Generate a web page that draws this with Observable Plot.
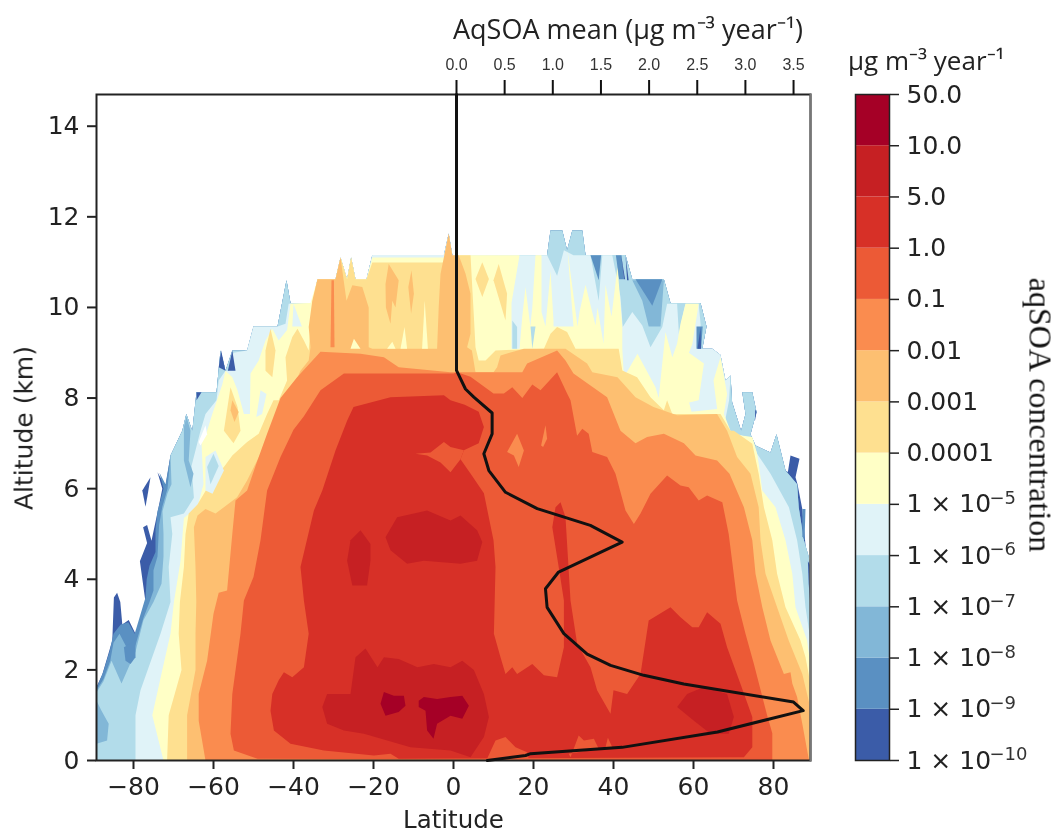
<!DOCTYPE html>
<html><head><meta charset="utf-8">
<script src="https://cdn.jsdelivr.net/npm/d3@7"></script>
<script src="https://cdn.jsdelivr.net/npm/@observablehq/plot@0.6"></script>
<style>
html,body{margin:0;padding:0;background:#fff}
#page{position:relative;width:1058px;height:832px;overflow:hidden}
#page svg{position:absolute;left:0;top:0;background:transparent;filter:blur(0.5px)}
.t{position:absolute;white-space:nowrap;color:#222;line-height:1;filter:blur(0.4px)}
</style></head><body><div id="page"></div>
<script>
const levelLabels = ["1 × 10","1 × 10","1 × 10","1 × 10","1 × 10","1 × 10","0.0001","0.001","0.01","0.1","1.0","5.0","10.0","50.0"];
const exponents = ["−10","−9","−8","−7","−6","−5"];
const palette = ["#3b5ca8","#5a90c2","#82b7d7","#b2dcea","#e0f3f8","#ffffc6","#fee090","#fdbf71","#fa8c4f","#ec5a36","#d73027","#c62023","#a50026"];
const latTicks = [-80,-60,-40,-20,0,20,40,60,80];
const altTicks = [0,2,4,6,8,10,12,14];
const meanTicks = [0,0.5,1,1.5,2,2.5,3,3.5];
const meanAqSOA = [0,0,0.093,0.18,0.37,0.37,0.284,0.336,0.509,0.838,1.39,1.72,1.06,0.924,0.941,1.115,1.357,1.6,1.945,2.36,3.5,3.6,2.71,1.72,0.77,0.717,0.32];
const meanAltitude = [14.7,8.61,8.2,8.02,7.67,7.21,6.77,6.4,5.92,5.56,5.19,4.82,4.16,3.79,3.38,2.8,2.35,2.1,1.88,1.69,1.29,1.1,0.63,0.29,0.15,0.11,0];

// outline of the filled data shared by the outermost bands
const topEnvelope = [[-70.75,6.73],[-67.8,7.28],[-66.8,7.65],[-65.3,7.28],[-64.25,8.13],[-59.25,8.13],[-58.25,9.05],[-57,8.6],[-55.3,9.05],[-51.6,9.05],[-50,9.58],[-44,9.58],[-41.75,10.6],[-40.75,10.1],[-35.3,10.1],[-34,10.62],[-29.5,10.62],[-28.25,11.1],[-26.6,10.62],[-25.6,11.1],[-24.5,10.62],[-21.75,10.62],[-20.3,11.16],[-2.4,11.16],[-1.2,11.63],[-0.3,11.16],[23.4,11.16],[24.25,11.7],[27.2,11.7],[28.4,11.26],[29.7,11.7],[32.2,11.7],[33,11.16],[43,11.16],[44.7,10.62],[52.6,10.62],[54.25,10.1],[61.75,10.1],[63.25,9.58],[62.2,9.09],[64.7,9.09],[66.75,8.95],[68,8.39],[69.25,8.5],[69.65,7.91],[71.9,7.28],[73,7.65],[72.2,8.13],[74.7,8.13],[75.75,7.69],[74.25,7.2],[75.5,6.95],[79.25,6.8]];
const rightShoulder = [[80.75,7.2],[83,6.4],[85.9,6.1],[86.3,5.59],[87.6,4.86],[88.8,4.5],[89.25,4.2],[89.25,0]];

const band0 = [[-89.25,0],[-89.25,1.62],[-87.8,1.9],[-85.3,2.65],[-84.9,3.6],[-84.1,3.7],[-83.3,3.5],[-82.8,3],[-81.2,3.1],[-79.5,2.8],[-77,3.5],[-78.4,4.4],[-76.6,4.8],[-77.6,5.15],[-76.6,5.2],[-75.5,4.85],[-73.7,5.6],[-72.8,6],[-74,6.36],[-72,6.05],...topEnvelope,[80.75,7.2],[83,6.4],[83.6,6.37],[84.25,6.73],[86.5,6.66],[85.5,6.25],[86,6.1],[87.2,5.55],[88.25,4.5],[89.25,4.2],[89.25,0]];
const band0Island = [[-77.8,5.96],[-75.75,6.25],[-76.4,5.9],[-77,5.6]];
const band1 = [[-89.25,0],[-89.25,1.6],[-87.6,1.95],[-86,2.4],[-85,2.8],[-83.2,3],[-81.3,3.05],[-79.7,2.8],[-78,3.3],[-77,3.6],[-76.7,4],[-76,4.3],[-74.5,4.6],[-74.5,5.1],[-74,5.5],[-72.5,6],[-73.5,6.35],[-72,6.1],...topEnvelope,...rightShoulder];
const band2 = [[-89.25,0],[-89.25,1.55],[-87.5,1.8],[-85.8,2.2],[-85,2.6],[-83.5,2.8],[-81.75,2.5],[-80.5,2.4],[-79.5,2.55],[-77.5,3.15],[-76,3.5],[-75,3.75],[-75,4.2],[-74,4.5],[-73.6,5.2],[-72.8,5.6],[-71.5,6],...topEnvelope,...rightShoulder];
const band3 = [[-89.25,0],[-89.25,1.5],[-87.5,1.75],[-85.5,2.2],[-83,1.7],[-81,2.1],[-79.5,2.4],[-77.5,3.1],[-75,3.5],[-73,3.9],[-72.5,4.5],[-72.5,5],[-72.75,5.5],[-71.5,5.9],[-70.5,6.1],...topEnvelope,...rightShoulder];
const band4 = [[-79.5,0],[-79.5,1],[-78.25,1.55],[-73.25,2.8],[-70.75,3.5],[-71.2,4.27],[-70.3,5],[-70.75,5.37],[-67.4,5.45],[-64.9,5.8],[-65.5,6.5],[-63.25,7.28],[-62,7.65],[-59.25,7.95],[-58.7,8.39],[-57,8.6],[-56.2,8.6],[-55,9],[-51.6,9.05],[-50,9.58],[-44,9.58],[-42,9.64],[-41.2,10.08],[-35.3,10.1],[-34,10.62],[-29.5,10.62],[-28.25,11.1],[-26.6,10.62],[-25.6,11.1],[-24.5,10.62],[-21.75,10.62],[-20.3,11.16],[-2.4,11.16],[-1.2,11.63],[-0.3,11.16],[23.4,11.15],[25.9,10.7],[27.6,11.26],[30,11.15],[34.25,11.15],[36.3,10.15],[37.2,11.15],[39.7,11.15],[41.75,10.23],[42.3,9.57],[44.7,9.9],[47.2,9.6],[49.25,9.12],[52.2,9.57],[53.4,10.08],[55.9,10.08],[56.35,9.42],[57.6,9.93],[58,10.08],[61.3,10.08],[61.8,9.6],[61,9.09],[64.7,9.09],[66.75,8.95],[68,8.39],[69.25,8.5],[68.9,7.95],[67.9,7.5],[68.4,7.28],[71,7.2],[74.7,7.1],[75.9,6.77],[79.25,6.33],[83.85,5.59],[85.9,4.86],[87.2,4.12],[88,3.38],[89.25,2.65],[89.25,0]];
const band5 = [[-72.5,0],[-75.3,1],[-72.8,2],[-70.75,2.8],[-69.9,3.5],[-68.25,4.4],[-67.4,5.35],[-64,5.6],[-62.5,6.1],[-63,7],[-61.6,7.28],[-60.3,7.65],[-57.8,8.3],[-57,8.6],[-55.3,8.46],[-54,8.17],[-52.4,7.65],[-50.9,7.65],[-50.75,8.54],[-48.7,8.83],[-47,9.27],[-45.3,9.53],[-43.7,9.27],[-41.6,9.5],[-40.75,10.08],[-35.75,10.1],[-34,10.62],[-29.5,10.62],[-28.25,11.1],[-26.6,10.62],[-25.6,11.1],[-24.5,10.62],[-21.75,10.62],[-20.3,11.1],[-2.4,11.1],[-1.2,11.6],[-0.3,11.1],[0.9,11.15],[16.5,11.15],[14.5,10.1],[14.5,9.09],[16.5,9.09],[17.2,9.8],[18,10.45],[19.2,9.58],[19.7,10],[20.5,11.15],[22,11.15],[22,9.9],[23,9.58],[24.25,10.8],[25,9.7],[25,9.58],[30,9.58],[28.5,11.26],[31,9.58],[31.5,9.9],[33,10.5],[35.5,9.6],[36,10],[37.5,9.2],[38,10.5],[39.5,9.8],[41,10.9],[42.2,9.58],[42.2,9.09],[42.6,8.46],[46,8.98],[50.5,8.24],[51.3,8],[53,9.46],[54.7,8.9],[55.9,9.2],[56.75,9.64],[58,10.08],[61.3,10.08],[59.7,9.19],[58.85,9],[62.6,8.76],[61.3,7.95],[58.9,7.9],[59.5,7.7],[65.9,7.76],[65,8.39],[66.75,8.9],[68.4,8.09],[67.6,7.65],[69.25,7.28],[68.8,7.21],[74.7,7.14],[75.9,6.77],[76.3,6.55],[77.2,5.96],[80.5,5.59],[83,4.86],[84.7,4.12],[85.5,3.38],[88.4,2.65],[89.25,2.1],[89.25,0]];
const band6 = [[-71.6,0],[-71.2,1],[-68,2],[-68.7,2.8],[-68.4,3.5],[-67.4,4.27],[-67,5],[-66.2,5.45],[-64,5.65],[-62,5.95],[-60.25,6.2],[-57.4,6.48],[-55.3,6.73],[-51.6,7.03],[-48.7,7.21],[-46.6,7.65],[-45,7.95],[-43.7,7.95],[-41.6,8.39],[-42,8.9],[-40.3,9.35],[-39,9.53],[-37.4,9.27],[-36.2,9.05],[-35.75,9.57],[-35.3,10.1],[-34,10.62],[-29.5,10.62],[-28.25,11.1],[-26.6,10.62],[-25.6,11.1],[-24.5,10.62],[-21.75,10.62],[-20.3,10.99],[-2.4,10.99],[-1.2,11.6],[-0.3,11.1],[1.3,11.15],[4.25,11.15],[5.1,9.79],[5.5,9.12],[6.3,8.83],[8,8.83],[10.5,9.05],[22.6,9.09],[24.25,9.42],[25.9,9.57],[28.4,9.46],[30.5,9.09],[41.3,9.09],[42.2,8.61],[45.9,8.46],[49.25,8.02],[52.6,7.73],[53.4,7.95],[54.7,7.65],[66.75,7.65],[69.25,7.28],[70.1,7.28],[74.7,6.99],[76.3,6.33],[77.6,5.59],[79.7,4.86],[80.9,4.12],[83,3.38],[86.75,2.65],[88,2.28],[88.8,1.91],[89.25,1.6],[89.25,0]];
const band7 = [[-66.6,0],[-66.6,1],[-64.5,2],[-64.5,2.8],[-64.3,3.5],[-64.5,4.27],[-64.9,5.15],[-64,5.41],[-62,5.55],[-59.5,5.45],[-57.4,5.59],[-54.1,5.81],[-51.6,6.18],[-48.25,6.77],[-45.75,7.28],[-43.25,7.73],[-41.6,7.95],[-38.25,8.6],[-36.2,8.83],[-35.75,9.12],[-36.2,9.57],[-35.3,10.15],[-34,10.62],[-29.5,10.62],[-28.25,11.1],[-26.75,10.15],[-25.3,10.49],[-22.8,10.45],[-21.2,10],[-21.2,9.12],[-20.3,9.09],[-4.1,9.09],[-3.7,10],[-3.25,10.74],[-1.2,11.63],[-0.3,11.15],[1.3,11.15],[3,10.75],[4.25,10.3],[4.25,9.42],[3.4,9.12],[4.6,9.05],[5.5,8.57],[10,8.57],[10.9,8.68],[11.75,8.94],[17.6,9.09],[28,9.09],[33.4,8.76],[34.7,8.57],[41,8.46],[45.5,8.02],[50,7.8],[55.9,7.62],[65.9,7.65],[68.4,7.28],[70.9,6.7],[74.25,6.33],[76.3,5.59],[76.75,4.86],[78,4.12],[80.9,3.38],[83.8,2.65],[87.2,1.91],[88.8,1.32],[89.25,1.1],[89.25,0]];
const band8 = [[-62,0],[-63.7,0.88],[-63.7,1.47],[-61.6,2.2],[-60,3.24],[-58.7,3.7],[-56.6,3.75],[-55.3,5],[-54.5,5.74],[-51.6,5.96],[-49.5,6.5],[-46.6,7.21],[-43.25,8],[-39.1,8.46],[-33.25,9.02],[-23.25,8.98],[-17.4,8.9],[-13.7,8.68],[-0.75,8.57],[17.2,8.57],[18.4,8.76],[25.9,9.05],[28,8.83],[30,8.54],[38.4,8.02],[41.75,7.28],[45.5,7],[48.4,7.14],[52.6,7.21],[57.6,7],[60.5,6.73],[65.9,6.62],[69,6.33],[72.6,5.59],[74.7,4.86],[75.5,4.12],[77.2,3.38],[79.25,2.65],[82.6,1.91],[84.25,1.95],[84.7,1.7],[85.9,1.4],[87.2,0.81],[88.8,0.04],[89.25,0.02],[89.25,0]];
const band9 = [[-49,0.04],[-54.9,0.22],[-55.75,0.59],[-55.3,1.47],[-53.25,2.8],[-52.4,3.53],[-50,4.05],[-48.25,4.86],[-46.6,5.96],[-43.25,6.7],[-40,7.3],[-37.4,7.6],[-33.25,8.17],[-27.4,8.54],[0,8.54],[0.9,8.57],[4.25,8.47],[10,8.1],[12.6,8.1],[14.7,8.24],[17.2,8],[19.7,8.3],[21.75,8.17],[25.9,8.57],[28.4,8.1],[29.25,7.95],[30.9,7.17],[32.2,7.32],[33.8,7.21],[34.7,6.81],[38.4,6.7],[40.5,6.33],[43,5.52],[45.1,5.22],[46.75,5.45],[49.25,5.89],[53.4,6.29],[56.75,6.07],[58.8,6.03],[61.3,5.74],[63.4,5.85],[67.2,5.7],[68.8,5],[70.9,3.53],[73,2.8],[75.1,2.13],[78.4,1],[79.7,0.6],[79.7,0]];
const band10 = [[-13.7,0.04],[-15.75,0.15],[-19.9,0.11],[-32.4,0.22],[-40.75,0.37],[-44.9,0.66],[-45.75,1.1],[-45.3,1.47],[-43.7,1.77],[-42.4,1.95],[-40.3,1.84],[-37.4,2.06],[-36.2,2.8],[-37.4,3.53],[-38.25,4.27],[-34.9,5.52],[-32.8,5.96],[-29.5,6.84],[-26.6,7.5],[-25,7.8],[-15.75,8.02],[-2.4,8.06],[-0.75,7.95],[2.8,7.85],[6.3,7.7],[7.6,7.36],[6.3,7],[2.6,6.85],[1.75,6.65],[4.5,6.3],[7.6,5.9],[10,4.86],[10.5,4.27],[10.1,2.8],[11.75,2.28],[13,1.91],[14.7,2.06],[15.9,1.91],[19.7,2.13],[22.6,1.88],[25.9,1.84],[27.6,2.5],[27.6,3.53],[26.3,4.27],[24.7,5.15],[25.5,5.59],[26.75,5.7],[28,5.37],[29.25,3.53],[30.9,2.58],[34.25,2.06],[35.9,1.55],[39.25,1.03],[40,1.55],[43.4,1.47],[46.75,1.91],[48.8,3.09],[54.25,3.38],[56.75,3.16],[59.7,2.94],[61.3,2.94],[63.4,3.27],[66.75,3.02],[68.4,2.5],[71.75,1.69],[74.7,0.96],[74.7,0.29],[72.6,0.07]];
const band11Low = [[-32.8,1.18],[-31.6,1.47],[-25.75,1.47],[-24.5,2.28],[-22,2.47],[-19,2.06],[-17.4,2.28],[-13.7,2.24],[-9,2.06],[-4.9,2.13],[-0.75,2.06],[2.2,2.2],[5.1,2],[7.6,1.47],[8.85,0.96],[7.6,0.52],[4.25,0.07],[-0.75,0.22],[-10.75,0.29],[-22.4,0.59],[-27.4,0.66],[-31.6,0.81]];
const band11West = [[-23.25,5.08],[-20.75,4.78],[-20.75,4.41],[-21.6,3.86],[-25.3,3.86],[-26.6,4.41],[-25.75,4.86]];
const band11Mid = [[-17,4.93],[-14.1,5.37],[-6.6,5.52],[-0.75,5.3],[1.75,5.41],[5.9,5.08],[7.2,4.82],[5.9,4.41],[1.75,4.34],[-7.4,4.41],[-11.6,4.34],[-15.75,4.64]];
const band11North = [[55.9,1.18],[58.4,1.47],[62.6,1.62],[68.4,1.47],[70.1,0.96],[68.8,0.59],[64.25,0.59],[60.1,0.88]];
const band12West = [[-17.4,1.51],[-14.9,1.43],[-12.4,1.43],[-12,1.21],[-13.7,1.07],[-17,0.99],[-18.25,1.25]];
const band12East = [[-8.7,1.32],[-7.4,1.4],[-4.1,1.36],[-0.75,1.4],[2.2,1.43],[3.85,1.21],[2.2,0.92],[-0.75,0.99],[-4.1,0.81],[-5,0.48],[-6.6,0.66],[-7,1.1],[-8.7,1.18]];

// small pockets that sit on top of the nested bands
const pocket9Notch = [[-9.5,6.77],[-5.75,6.8],[-2.4,7.03],[-0.75,6.92],[2.6,6.85],[1.75,6.65],[-0.75,6.36],[-3.25,6.58],[-6.6,6.73]];
const pocket9BaseA = [[8.4,0.04],[10.5,0.44],[13,0.52],[15.5,0.29],[18.4,0.18],[18.8,0.04]];
const pocket9BaseB = [[29.25,0.07],[31.3,0.55],[32.6,0.44],[35.1,0.48],[36.3,0.26],[28.8,0.15]];
const pocket9BaseC = [[38,0.29],[38.6,0.5],[39.7,0.29]];
const pocket8A = [[13.4,6.81],[15.9,7.21],[17.6,6.84],[16.3,6.48],[15.1,6.73]];
const pocket8B = [[21.9,6.95],[23,7.4],[23.4,7.1],[22.4,6.92]];
const pocket8Strip = [[-30.75,9.12],[-30.5,10.6],[-29.9,10.6],[-29.75,9.12]];
const pocket7A = [[-17,10.52],[-16.2,10.96],[-13.7,10.6],[-14.5,10],[-15.3,10.15],[-15.75,9.64],[-16.9,10]];
const pocket7B = [[-11.3,10.45],[-10.5,10.82],[-9.9,10.3],[-10.6,9.86]];
const pocket7C = [[-55.3,7.95],[-53.7,7.69],[-54.75,7.47],[-55.75,7.73]];
const pocket6A = [[-57.4,7.28],[-55.75,8.24],[-54,7.8],[-53.25,7.28],[-55,7]];
const pocket6B = [[-45.75,9.53],[-44.5,9.05],[-45.3,8.46],[-47,8.6],[-47,9.05]];
const pocket6C = [[7.2,11],[8.85,10.63],[7.2,10.23],[5.5,10.63]];
const pocket6D = [[11.3,10.96],[13.4,10.3],[13,9.71],[10,10.6]];
const pocket5A = [[-25.75,9.09],[-24.9,9.31],[-23.25,9.09]];
const pocket5B = [[-16.6,9.09],[-15.3,9.24],[-14.5,9.09]];
const pocket5C = [[-13.25,9.09],[-12.25,9.57],[-11.6,9.09]];
const pocket5D = [[-7.85,9.09],[-7.2,10.15],[-6.4,9.09]];
const pocket4A = [[-48.25,8.17],[-46.75,8.09],[-47.85,7.65],[-49.3,7.58]];
const pocket4B = [[-40,10.08],[-37.9,9.58],[-40.3,9.58]];
const pocket4C = [[-62,6.7],[-59.5,6.84],[-57.4,6.4],[-60.25,5.89],[-62,5.96]];
const pocket3A = [[-61.6,6.48],[-60,6.77],[-58.7,6.5],[-60.75,6.1]];
const pocket3B = [[14.7,9.71],[15.9,9.57],[15.9,9.09],[14.7,9.09]];
const pocket3C = [[19.25,9.58],[20.5,9.58],[19.7,9.09]];
const pocket3D = [[-88.7,0.29],[-87.4,0.4],[-86.6,0.22]];
const pocket2A = [[-67.4,7.36],[-66.75,7.6],[-65.75,7.28],[-66.2,6.62],[-65,6.33],[-65.75,6.03],[-67.4,6.62]];
const pocket2B = [[44.7,10.6],[52.6,10.6],[51.75,9.58],[48.8,9.58],[47.2,10.15]];
const pocket2C = [[-89.25,1.32],[-88,1.1],[-86.2,0.81],[-86.6,0.44],[-89.25,0.37]];
const pocket1A = [[45.5,10.62],[52.2,10.62],[49.7,10.04]];
const pocket1B = [[34.25,11.15],[36.9,11.15],[36.3,10.6]];
const pocket1C = [[-82.4,2.5],[-79.5,2.65],[-79.5,2.28],[-80.75,2.13],[-82,2.2]];
const pocket1D = [[87.2,5.55],[88,5.55],[87.75,4.86],[87.2,4.95]];
const pocket1E = [[40.6,11.15],[42,11.15],[42.6,10.62],[41.4,10.62]];
const pocket1F = [[60.75,9.58],[62.3,9.58],[61.9,9.09],[60.75,9.09]];
const pocket0A = [[41.9,11.15],[42.6,10.62],[42.9,10.62]];
const pocket0B = [[43,11.15],[43.8,10.6],[43.4,10.6]];
const pocket0C = [[61,9.09],[61.75,9.55],[61.9,9.09]];
const pocket0D = [[-58.7,8.68],[-58.1,9.05],[-57,8.6]];
const pocket0E = [[-56.4,8.6],[-55.3,9.05],[-54.5,8.6]];
const pocket0F = [[-64.25,7.95],[-64.25,8.13],[-63,8.13]];
const pocket0G = [[88.6,4.4],[89.25,4.3],[89.25,3.38],[88.8,3.9]];
const pocket0H = [[75.4,7.76],[75.75,7.69],[75.4,7.5]];

const shapes = [
 [0,band0],[0,band0Island],[1,band1],[2,band2],[3,band3],[1,pocket1C],[2,pocket2C],[3,pocket3D],[4,band4],[5,band5],[6,band6],
 [4,pocket4A],[4,pocket4B],[4,pocket4C],[3,pocket3A],[3,pocket3B],[3,pocket3C],[2,pocket2A],[2,pocket2B],[1,pocket1A],[1,pocket1B],[1,pocket1D],[1,pocket1E],[1,pocket1F],
 [0,pocket0A],[0,pocket0B],[0,pocket0C],[0,pocket0D],[0,pocket0E],[0,pocket0F],[0,pocket0G],[0,pocket0H],
 [6,pocket6A],[6,pocket6B],[6,pocket6C],[6,pocket6D],
 [7,band7],[7,pocket7A],[7,pocket7B],[7,pocket7C],[5,pocket5A],[5,pocket5B],[5,pocket5C],[5,pocket5D],
 [8,band8],[8,pocket8Strip],[9,band9],[8,pocket8A],[8,pocket8B],[10,band10],[9,pocket9Notch],[9,pocket9BaseA],[9,pocket9BaseB],[9,pocket9BaseC],
 [11,band11Low],[11,band11West],[11,band11Mid],[11,band11North],[12,band12West],[12,band12East]
];
const whiteHoles = [[[-63.7,7.03],[-62,7.4],[-61.6,7.2],[-63.25,6.95]]];
const rows = shapes.flatMap(([level,pts],id)=>pts.map(([lat,alt])=>({lat,alt,level,id})));
const holeRows = whiteHoles.flatMap((pts,id)=>pts.map(([lat,alt])=>({lat,alt,id})));

const W=1058,H=832,font="DejaVu Sans";
const page=document.getElementById("page");
const main=Plot.plot({width:W,height:H,marginLeft:96,marginRight:248,marginTop:94,marginBottom:72,
 style:{fontFamily:font,background:"transparent",color:"#222"},
 x:{domain:[-89.25,89.25]},y:{domain:[0,14.7]},
 color:{type:"ordinal",domain:d3.range(13),range:palette},
 marks:[
  Plot.line(rows,{x:"lat",y:"alt",z:"id",fill:"level",stroke:null,clip:true}),
  Plot.line(holeRows,{x:"lat",y:"alt",z:"id",fill:"white",stroke:null,clip:true}),
  Plot.axisX({ticks:latTicks,tickSize:9,tickPadding:8,fontSize:25,label:null,strokeWidth:2,stroke:"#222"}),
  Plot.axisY({ticks:altTicks,tickSize:9,tickPadding:8,fontSize:25,label:null,strokeWidth:2,stroke:"#222"}),
  Plot.frame({stroke:"#222",strokeWidth:2}),
  Plot.frame({anchor:"right",stroke:"#777",strokeWidth:2})
 ]});
page.append(main);
const top_=Plot.plot({width:W,height:H,marginLeft:96,marginRight:248,marginTop:94,marginBottom:72,
 style:{background:"transparent",color:"#333",fontFamily:"'Liberation Sans Narrow','Liberation Sans'"},
 x:{domain:[(96-456)/96.3,(810-456)/96.3],axis:null},y:{domain:[0,14.7],axis:null},
 marks:[
  Plot.axisX({anchor:"top",ticks:meanTicks,tickFormat:d3.format(".1f"),tickSize:15,tickPadding:10,fontSize:16,label:null,strokeWidth:2,stroke:"#111"}),
  Plot.line(meanAltitude,{x:meanAqSOA,y:meanAltitude,stroke:"#111",strokeWidth:3,strokeLinejoin:"round"})
 ]});
page.append(top_);
const bar=Plot.plot({width:W,height:H,marginLeft:855,marginRight:169,marginTop:94,marginBottom:72,
 style:{fontFamily:font,background:"transparent",color:"#222"},
 x:{domain:[0,1],axis:null},y:{domain:[0,13],axis:null},
 color:{type:"ordinal",domain:d3.range(13),range:palette},
 marks:[
  Plot.rect(d3.range(13),{x1:0,x2:1,y1:d=>d,y2:d=>d+1,fill:d=>d}),
  Plot.frame({stroke:"#222",strokeWidth:1.5}),
  Plot.axisY({anchor:"right",ticks:d3.range(14),tickFormat:i=>levelLabels[i],tickSize:9,tickPadding:8,fontSize:25,label:null,strokeWidth:1.5,stroke:"#222"}),
  Plot.text(exponents,{x:()=>1,y:(d,i)=>i,text:d=>d,textAnchor:"start",dx:100,dy:-6,fontSize:18,fill:"#333"})
 ]});
page.append(bar);
function label(text,css){const d=document.createElement("div");d.className="t";d.textContent=text;d.style.cssText=css;page.append(d);}
label("AqSOA mean (µg m⁻³ year⁻¹)","left:453px;top:10px;font:27px 'Open Sans'");
label("µg m⁻³ year⁻¹","left:848px;top:42px;font:26px 'Open Sans'");
label("Latitude","left:403px;top:805px;font:24.5px 'DejaVu Sans'");
label("Altitude (km)","left:24px;top:428px;font:25px 'DejaVu Sans';transform:translate(-50%,-50%) rotate(-90deg)");
label("aqSOA concentration","left:1040px;top:415px;font:32px 'Liberation Serif';color:#111;transform:translate(-50%,-50%) rotate(90deg)");
</script></body></html>
